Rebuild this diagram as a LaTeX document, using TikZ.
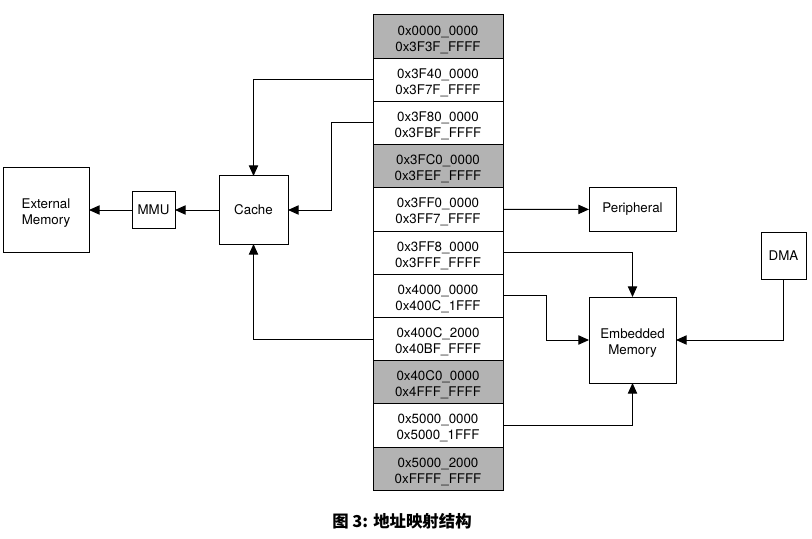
\documentclass[tikz,border=0pt]{standalone}
\usepackage{fontspec}
\setmainfont{TeX Gyre Heros}
\newfontfamily\cjkfont{Noto Sans CJK SC}
\usepackage{xcolor}
\usepackage{tikz}
\usetikzlibrary{arrows.meta,positioning}
\definecolor{cRes}{HTML}{B3B3B3}
\definecolor{cLine}{HTML}{000000}
% two lines, nudged down a little inside the box
\newcommand{\twoline}[2]{\raisebox{-2.5pt}[\height][\depth]{\begin{tabular}{@{}c@{}}#1\\#2\end{tabular}}}
\tikzset{
  blk/.style={draw=cLine, line width=0.75pt, fill=white, align=center, font=\fontsize{10}{12}\selectfont,
              inner sep=2pt, outer sep=0pt},
  row/.style={blk, minimum width=97.5pt, minimum height=32.4pt, fill=#1},
  row/.default=white,
  link/.style={-{Triangle[length=8pt,width=7pt]}, line width=0.75pt, draw=cLine},
}

\begin{document}
\begin{tikzpicture}[x=0.75pt, y=-0.75pt]
  \useasboundingbox (0,0) rectangle (812,538);
  % address map
  \node[row=cRes] (r1) at (438,36.6) {\twoline{0x0000\_0000}{0x3F3F\_FFFF}};
  \node[row, below=0pt of r1] (r2) {\twoline{0x3F40\_0000}{0x3F7F\_FFFF}};
  \node[row, below=0pt of r2] (r3) {\twoline{0x3F80\_0000}{0x3FBF\_FFFF}};
  \node[row=cRes, below=0pt of r3] (r4) {\twoline{0x3FC0\_0000}{0x3FEF\_FFFF}};
  \node[row, below=0pt of r4] (r5) {\twoline{0x3FF0\_0000}{0x3FF7\_FFFF}};
  \node[row, below=0pt of r5] (r6) {\twoline{0x3FF8\_0000}{0x3FFF\_FFFF}};
  \node[row, below=0pt of r6] (r7) {\twoline{0x4000\_0000}{0x400C\_1FFF}};
  \node[row, below=0pt of r7] (r8) {\twoline{0x400C\_2000}{0x40BF\_FFFF}};
  \node[row=cRes, below=0pt of r8] (r9) {\twoline{0x40C0\_0000}{0x4FFF\_FFFF}};
  \node[row, below=0pt of r9] (r10) {\twoline{0x5000\_0000}{0x5000\_1FFF}};
  \node[row=cRes, below=0pt of r10] (r11) {\twoline{0x5000\_2000}{0xFFFF\_FFFF}};
  % blocks
  \node[blk, minimum width=51.75pt, minimum height=51pt] (cache) at (253.5,210) {Cache};
  \node[blk, minimum width=32.25pt, minimum height=27.75pt] (mmu) at (153.5,210) {MMU};
  \node[blk, minimum width=64.5pt, minimum height=63.75pt] (ext) at (46,210) {\twoline{External}{Memory}};
  \node[blk, minimum width=65.25pt, minimum height=33pt] (peri) at (632.5,209.4) {Peripheral};
  \node[blk, minimum width=65.25pt, minimum height=64.5pt] (emb) at (632.5,340) {\twoline{Embedded}{Memory}};
  \node[blk, minimum width=33.75pt, minimum height=35.25pt] (dma) at (783.5,256) {DMA};
  % links
  \draw[link] (r2.west) -| (cache.north);
  \draw[link] (r3.west) -- ++(-42,0) |- (cache.east);
  \draw[link] (r8.west) -| (cache.south);
  \draw[link] (cache) -- (mmu);
  \draw[link] (mmu) -- (ext);
  \draw[link] (r5.east) -- (peri.west);
  \draw[link] (r6.east) -| (emb.north);
  \draw[link] (r7.east) -- ++(43,0) |- (emb.west);
  \draw[link] (r10.east) -| (emb.south);
  \draw[link] (dma.south) |- (emb.east);
  % caption
  \node[font=\cjkfont\bfseries\fontsize{12.3}{14}\selectfont] (cap) at (402,521) {图 3: 地址映射结构};
\end{tikzpicture}
\end{document}
